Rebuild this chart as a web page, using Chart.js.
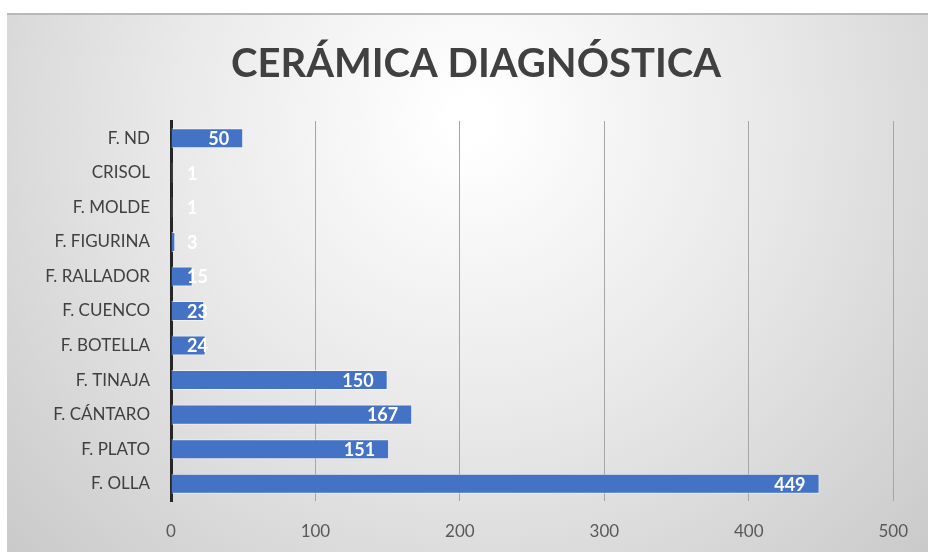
<!DOCTYPE html>
<html lang="es">
<head>
<meta charset="UTF-8">
<title>Cerámica diagnóstica</title>
<script src="https://cdn.jsdelivr.net/npm/chart.js"></script>
<style>
  html, body { margin: 0; padding: 0; background: #fff; overflow: hidden; }
  #wrap { width: 928px; height: 552px; }
</style>
</head>
<body>
<div id="wrap"><canvas id="chart"></canvas></div>
<script>
// categorías de arriba hacia abajo
const formas = ['F. ND', 'CRISOL', 'F. MOLDE', 'F. FIGURINA', 'F. RALLADOR', 'F. CUENCO',
                'F. BOTELLA', 'F. TINAJA', 'F. CÁNTARO', 'F. PLATO', 'F. OLLA'];
const cantidades = [50, 1, 1, 3, 15, 23, 24, 150, 167, 151, 449];
const ejeMax = 500;
const ejePaso = 100;
const titulo = 'CERÁMICA DIAGNÓSTICA';

const fuente = 'Lato, "Open Sans", sans-serif';

// fondo con degradado radial y título centrado sobre el área del gráfico
const fondo = {
  id: 'fondo',
  beforeDraw(chart) {
    const c = chart.ctx;
    const w = chart.width, h = chart.height;
    c.save();
    c.fillStyle = '#ffffff';
    c.fillRect(0, 0, w, h);
    const g = c.createRadialGradient(470, 120, 20, 470, 120, 640);
    g.addColorStop(0, '#ffffff');
    g.addColorStop(0.45, '#e9e9e9');
    g.addColorStop(1, '#c9c9c9');
    c.fillStyle = g;
    c.fillRect(7, 13, w - 7, h - 13);
    c.fillStyle = '#b8b8b8';
    c.fillRect(7, 13, w - 7, 2);
    c.font = 'bold 40px ' + fuente;
    c.fillStyle = '#404040';
    c.textAlign = 'center';
    c.textBaseline = 'middle';
    c.fillText(titulo, 476, 64);
    c.restore();
  }
};

// etiquetas de valor dentro del extremo de cada barra
const etiquetas = {
  id: 'etiquetas',
  afterDatasetsDraw(chart) {
    const c = chart.ctx;
    const meta = chart.getDatasetMeta(0);
    const base = chart.scales.x.getPixelForValue(0);
    c.save();
    c.font = 'bold 18px ' + fuente;
    c.fillStyle = '#ffffff';
    c.textBaseline = 'middle';
    c.textAlign = 'left';
    meta.data.forEach((bar, i) => {
      const txt = String(cantidades[i]);
      const tw = c.measureText(txt).width;
      const x = Math.max(bar.x - 14 - tw, base + 16);
      c.fillText(txt, x, bar.y + 1);
    });
    c.restore();
  }
};

new Chart(document.getElementById('chart'), {
  type: 'bar',
  data: {
    labels: formas,
    datasets: [{
      data: cantidades,
      backgroundColor: '#4472c4',
      borderColor: 'rgba(255,255,255,0.55)',
      borderWidth: 1,
      categoryPercentage: 1,
      barPercentage: 0.58
    }]
  },
  options: {
    indexAxis: 'y',
    responsive: true,
    maintainAspectRatio: false,
    animation: false,
    layout: { padding: { top: 121, right: 33, bottom: 11, left: 0 } },
    plugins: {
      legend: { display: false },
      tooltip: { enabled: false },
      title: { display: false }
    },
    scales: {
      x: {
        min: 0,
        max: ejeMax,
        afterFit(scale) { scale.height = 40; },
        ticks: {
          stepSize: ejePaso,
          color: '#595959',
          padding: 20,
          font: { family: fuente, size: 17 }
        },
        grid: { color: '#a6a6a6', lineWidth: 1, drawTicks: false },
        border: { display: false }
      },
      y: {
        afterFit(scale) { scale.width = 171; },
        ticks: {
          color: '#404040',
          padding: 21,
          font: { family: fuente, size: 17 }
        },
        grid: { display: false, drawTicks: false },
        border: { display: true, color: '#262626', width: 3 }
      }
    }
  },
  plugins: [fondo, etiquetas]
});
</script>
</body>
</html>
